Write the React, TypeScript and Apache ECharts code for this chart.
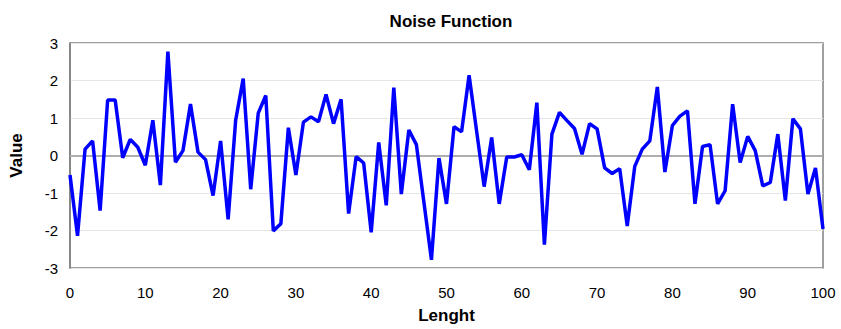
import React, { useEffect, useRef } from "react";
import * as echarts from "echarts";

const xTicks = [0, 10, 20, 30, 40, 50, 60, 70, 80, 90, 100];
const yTicks = [-3, -2, -1, 0, 1, 2, 3];
const noiseValues = [
  -0.52, -2.14, 0.17, 0.39, -1.47, 1.48, 1.48, -0.06, 0.43, 0.22,
  -0.26, 0.94, -0.79, 2.77, -0.18, 0.13, 1.37, 0.09, -0.11, -1.07,
  0.39, -1.7, 0.94, 2.05, -0.9, 1.13, 1.6, -2.01, -1.82, 0.74,
  -0.52, 0.89, 1.03, 0.9, 1.63, 0.85, 1.5, -1.55, -0.03, -0.2,
  -2.05, 0.35, -1.33, 1.81, -1.03, 0.68, 0.29, -1.25, -2.78, -0.07,
  -1.29, 0.77, 0.63, 2.14, 0.65, -0.83, 0.48, -1.29, -0.04, -0.04,
  0.02, -0.38, 1.41, -2.38, 0.57, 1.15, 0.93, 0.72, 0.03, 0.85,
  0.71, -0.33, -0.48, -0.35, -1.88, -0.29, 0.17, 0.39, 1.83, -0.44,
  0.8, 1.05, 1.19, -1.29, 0.24, 0.29, -1.29, -0.94, 1.37, -0.19,
  0.51, 0.13, -0.81, -0.72, 0.57, -1.2, 0.98, 0.71, -1.03, -0.33,
  -1.96,
];

export default function App() {
  const ref = useRef<HTMLDivElement>(null);
  useEffect(() => {
    if (!ref.current) return;
    const chart = echarts.init(ref.current, undefined, { renderer: "svg" });
    const font = "Liberation Sans, Arial, sans-serif";
    chart.setOption({
      animation: false,
      backgroundColor: "#ffffff",
      title: {
        text: "Noise Function",
        left: 446,
        textAlign: "center",
        top: 8,
        textStyle: { fontFamily: font, fontSize: 17, fontWeight: "bold", color: "#000" },
      },
      grid: {
        left: 69,
        right: 18,
        top: 43,
        bottom: 56,
        show: true,
        borderColor: "#808080",
        borderWidth: 1.5,
        containLabel: false,
      },
      xAxis: {
        type: "value",
        min: xTicks[0],
        max: xTicks[xTicks.length - 1],
        interval: 10,
        name: "Lenght",
        nameLocation: "middle",
        nameGap: 39,
        nameTextStyle: { fontFamily: font, fontSize: 17, fontWeight: "bold", color: "#000" },
        axisLine: { show: true, lineStyle: { color: "#808080", width: 1.5 } },
        axisTick: { show: false },
        splitLine: { show: false },
        axisLabel: { fontFamily: font, fontSize: 15, color: "#000", margin: 17 },
      },
      yAxis: {
        type: "value",
        min: yTicks[0],
        max: yTicks[yTicks.length - 1],
        interval: 1,
        name: "Value",
        nameLocation: "middle",
        nameGap: 45,
        nameTextStyle: { fontFamily: font, fontSize: 17, fontWeight: "bold", color: "#000" },
        axisLine: { show: true, lineStyle: { color: "#808080", width: 1.5 } },
        axisTick: { show: false },
        splitLine: { show: true, lineStyle: { color: "#e6e6e6", width: 1 } },
        axisLabel: { fontFamily: font, fontSize: 15, color: "#000", margin: 12 },
      },
      series: [
        {
          type: "line",
          data: noiseValues.map((v, i) => [i, v]),
          symbol: "none",
          lineStyle: { color: "#0000ff", width: 3.5 },
          markLine: {
            silent: true,
            symbol: "none",
            label: { show: false },
            lineStyle: { color: "#b4b4b4", width: 1.5, type: "solid" },
            data: [{ yAxis: 0 }],
            z: 1,
          },
          z: 3,
        },
      ],
    });
    return () => chart.dispose();
  }, []);
  return (
    <div
      ref={ref}
      style={{ position: "fixed", left: 0, top: 0, width: 841, height: 329 }}
    />
  );
}
